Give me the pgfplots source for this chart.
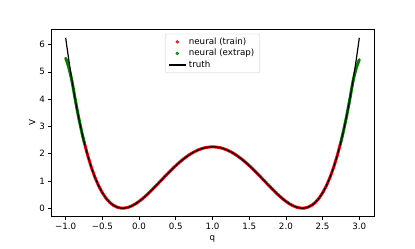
\documentclass[border=0pt]{standalone}
\usepackage{pgfplots}
\pgfplotsset{compat=1.18}
\usepackage{fontspec}
\setmainfont{DejaVu Sans}
\pgfplotstableread{
q V
-1.00 6.25
-0.975 5.763
-0.95 5.30151
-0.925 4.8648
-0.90 4.4521
-0.875 4.0627
-0.85 3.69601
-0.825 3.3512
-0.80 3.0276
-0.775 2.7246
-0.75 2.44141
-0.70 1.9321
-0.65 1.49451
-0.60 1.1236
-0.55 0.81451
-0.50 0.5625
-0.45 0.36301
-0.40 0.2116
-0.35 0.10401
-0.30 0.0361
-0.25 0.00391
-0.2247 0
-0.20 0.0036
-0.15 0.03151
-0.10 0.0841
-0.05 0.15801
0.00 0.25
0.05 0.35701
0.10 0.4761
0.15 0.60451
0.20 0.7396
0.25 0.87891
0.30 1.0201
0.35 1.16101
0.40 1.2996
0.45 1.43401
0.50 1.5625
0.55 1.68351
0.60 1.7956
0.65 1.89751
0.70 1.9881
0.75 2.06641
0.80 2.1316
0.85 2.18301
0.90 2.2201
0.95 2.24251
1.00 2.25
1.05 2.24251
1.10 2.2201
1.15 2.18301
1.20 2.1316
1.25 2.06641
1.30 1.9881
1.35 1.89751
1.40 1.7956
1.45 1.68351
1.50 1.5625
1.55 1.43401
1.60 1.2996
1.65 1.16101
1.70 1.0201
1.75 0.87891
1.80 0.7396
1.85 0.60451
1.90 0.4761
1.95 0.35701
2.00 0.25
2.05 0.15801
2.10 0.0841
2.15 0.03151
2.20 0.0036
2.2247 0
2.25 0.00391
2.30 0.0361
2.35 0.10401
2.40 0.2116
2.45 0.36301
2.50 0.5625
2.55 0.81451
2.60 1.1236
2.65 1.49451
2.70 1.9321
2.75 2.44141
2.775 2.7246
2.80 3.0276
2.825 3.3512
2.85 3.69601
2.875 4.0627
2.90 4.4521
2.925 4.8648
2.95 5.30151
2.975 5.763
3.00 6.25
}\truth
\pgfplotstableread{
q V
-0.75 2.44141
-0.70 1.9321
-0.65 1.49451
-0.60 1.1236
-0.55 0.81451
-0.50 0.5625
-0.45 0.36301
-0.40 0.2116
-0.35 0.10401
-0.30 0.0361
-0.25 0.00391
-0.2247 0
-0.20 0.0036
-0.15 0.03151
-0.10 0.0841
-0.05 0.15801
0.00 0.25
0.05 0.35701
0.10 0.4761
0.15 0.60451
0.20 0.7396
0.25 0.87891
0.30 1.0201
0.35 1.16101
0.40 1.2996
0.45 1.43401
0.50 1.5625
0.55 1.68351
0.60 1.7956
0.65 1.89751
0.70 1.9881
0.75 2.06641
0.80 2.1316
0.85 2.18301
0.90 2.2201
0.95 2.24251
1.00 2.25
1.05 2.24251
1.10 2.2201
1.15 2.18301
1.20 2.1316
1.25 2.06641
1.30 1.9881
1.35 1.89751
1.40 1.7956
1.45 1.68351
1.50 1.5625
1.55 1.43401
1.60 1.2996
1.65 1.16101
1.70 1.0201
1.75 0.87891
1.80 0.7396
1.85 0.60451
1.90 0.4761
1.95 0.35701
2.00 0.25
2.05 0.15801
2.10 0.0841
2.15 0.03151
2.20 0.0036
2.2247 0
2.25 0.00391
2.30 0.0361
2.35 0.10401
2.40 0.2116
2.45 0.36301
2.50 0.5625
2.55 0.81451
2.60 1.1236
2.65 1.49451
2.70 1.9321
2.75 2.44141
}\train
\pgfplotstableread{
q V
-1.00 5.50
-0.98 5.36
-0.96 5.18
-0.94 4.97
-0.92 4.73
-0.90 4.45
-0.875 4.06
-0.85 3.70
-0.825 3.35
-0.80 3.03
-0.775 2.72
-0.75 2.44
}\extrapL
\pgfplotstableread{
q V
2.75 2.44
2.775 2.72
2.80 3.03
2.825 3.35
2.85 3.70
2.875 4.06
2.90 4.45
2.92 4.73
2.94 4.96
2.96 5.15
2.98 5.31
3.00 5.45
}\extrapR
\definecolor{mplgreen}{rgb}{0,0.5,0}
\begin{document}
\fontsize{8.7bp}{10bp}\selectfont
\begin{tikzpicture}
\useasboundingbox (0,0) rectangle (415bp,249bp);
\begin{axis}[
  at={(51bp,32.3bp)}, anchor=south west,
  scale only axis, width=323bp, height=187.4bp,
  xmin=-1.2, xmax=3.2, ymin=-0.3125, ymax=6.5625,
  xtick={-1,-0.5,0,0.5,1,1.5,2,2.5,3},
  xticklabels={−1.0,−0.5,0.0,0.5,1.0,1.5,2.0,2.5,3.0},
  ytick={0,1,2,3,4,5,6},
  /pgf/number format/assume math mode=true,
  tick align=outside, tick pos=left, major tick length=3bp,
  every tick/.style={black, line width=0.7bp},
  axis line style={line width=0.7bp},
  ticklabel style={font=\fontsize{8.7bp}{10bp}\selectfont},
  label style={font=\fontsize{8.7bp}{10bp}\selectfont},
  xlabel={q}, ylabel={V},
  ylabel style={yshift=-2bp},
  legend style={at={(0.5,1)}, anchor=north, yshift=-4.5bp,
    draw=black!20, rounded corners=2bp, fill=white, fill opacity=0.8, text opacity=1,
    inner xsep=3bp, inner ysep=2.2bp,
    font=\fontsize{8.7bp}{10bp}\selectfont,
    nodes={inner ysep=1.1bp, inner xsep=2.5bp, text height=7bp, text depth=2.3bp}},
  legend cell align=left,
]
\addplot[red, line width=3bp, line cap=round, forget plot] table[x=q,y=V] {\train};
\addplot[mplgreen, line width=3bp, line cap=round, forget plot] table[x=q,y=V] {\extrapL};
\addplot[mplgreen, line width=3bp, line cap=round, forget plot] table[x=q,y=V] {\extrapR};
\addplot[black, line width=1.2bp, forget plot] table[x=q,y=V] {\truth};
\addlegendimage{only marks, mark=*, mark size=1.5bp, red}
\addlegendentry{neural (train)}
\addlegendimage{only marks, mark=*, mark size=1.5bp, mplgreen}
\addlegendentry{neural (extrap)}
\addlegendimage{black, line width=1.2bp}
\addlegendentry{truth}
\end{axis}
\end{tikzpicture}
\end{document}
